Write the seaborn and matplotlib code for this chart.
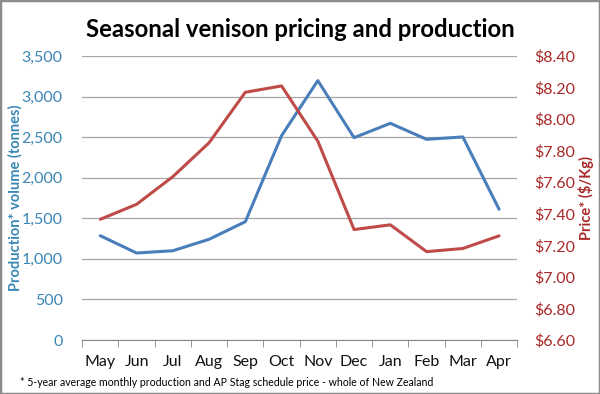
import matplotlib
matplotlib.use("Agg")
import matplotlib.pyplot as plt
from matplotlib.patches import Rectangle
from matplotlib.ticker import FuncFormatter, MultipleLocator
import seaborn as sns

months = ["May", "Jun", "Jul", "Aug", "Sep", "Oct", "Nov", "Dec", "Jan", "Feb", "Mar", "Apr"]
production = [1285, 1072, 1100, 1241, 1458, 2518, 3196, 2493, 2670, 2473, 2502, 1611]
price = [7.365, 7.46, 7.635, 7.85, 8.17, 8.21, 7.86, 7.30, 7.33, 7.16, 7.18, 7.26]

blue = "#4A7EBB"
red = "#BE4B48"
blue_txt = "#3A86B4"
red_txt = "#A82828"

sns.set_style("white")
plt.rcParams["font.family"] = ["Lato", "DejaVu Sans"]

fig = plt.figure(figsize=(6, 3.94), dpi=100)
ax = fig.add_axes([0.137, 0.137, 0.725, 0.721])
ax2 = ax.twinx()

sns.lineplot(x=months, y=production, sort=False, color=blue, linewidth=2.2, ax=ax)
sns.lineplot(x=months, y=price, sort=False, color=red, linewidth=2.2, ax=ax2)

ax.set_xlim(-0.5, len(months) - 0.5)
ax.set_ylim(0, 3500)
ax.yaxis.set_major_locator(MultipleLocator(500))
ax.yaxis.set_major_formatter(FuncFormatter(lambda v, p: f"{int(v):,}"))
ax.grid(axis="y", color="#A6A6A6", linewidth=0.9)
ax.grid(axis="x", visible=False)

ax2.set_ylim(6.6, 8.4)
ax2.yaxis.set_major_locator(MultipleLocator(0.2))
ax2.yaxis.set_major_formatter(FuncFormatter(lambda v, p: f"${v:.2f}"))
ax2.grid(False)

for a in (ax, ax2):
    for s in ("top", "left", "right"):
        a.spines[s].set_visible(False)
ax.spines["bottom"].set_color("#888888")
ax2.spines["bottom"].set_visible(False)

ax.set_xticks(range(len(months)))
ax.set_xticklabels(months)
ax.set_xticks([i - 0.5 for i in range(len(months) + 1)], minor=True)
ax.tick_params(axis="x", which="major", length=0, pad=11, labelsize=11.5, labelcolor="#111111")
ax.tick_params(axis="x", which="minor", length=5, direction="out", color="#888888", bottom=True)
ax.tick_params(axis="y", length=0, pad=14, labelsize=11.5, labelcolor=blue_txt)
ax2.tick_params(axis="y", length=0, pad=12, labelsize=11.5, labelcolor=red_txt)

ax.set_xlabel("")
ax.set_ylabel("Production* volume (tonnes)", fontsize=10.5, fontweight="bold", color=blue_txt)
ax.yaxis.set_label_coords(-0.138, 0.5)
ax2.set_ylabel("Price* ($/Kg)", fontsize=10.5, fontweight="bold", color=red_txt)
ax2.yaxis.set_label_coords(1.14, 0.5)

fig.text(0.5, 0.925, "Seasonal venison pricing and production", ha="center", va="center",
         fontsize=17.2, fontweight="bold", color="black")
fig.text(0.033, 0.03, "* 5-year average monthly production and AP Stag schedule price - whole of New Zealand",
         ha="left", va="center", fontsize=7.6, color="black")

fig.patches.append(Rectangle((0, 0), 1, 1, transform=fig.transFigure, fill=False,
                             edgecolor="#8C8C8C", linewidth=2.5))

fig.savefig("out.png", dpi=100)
